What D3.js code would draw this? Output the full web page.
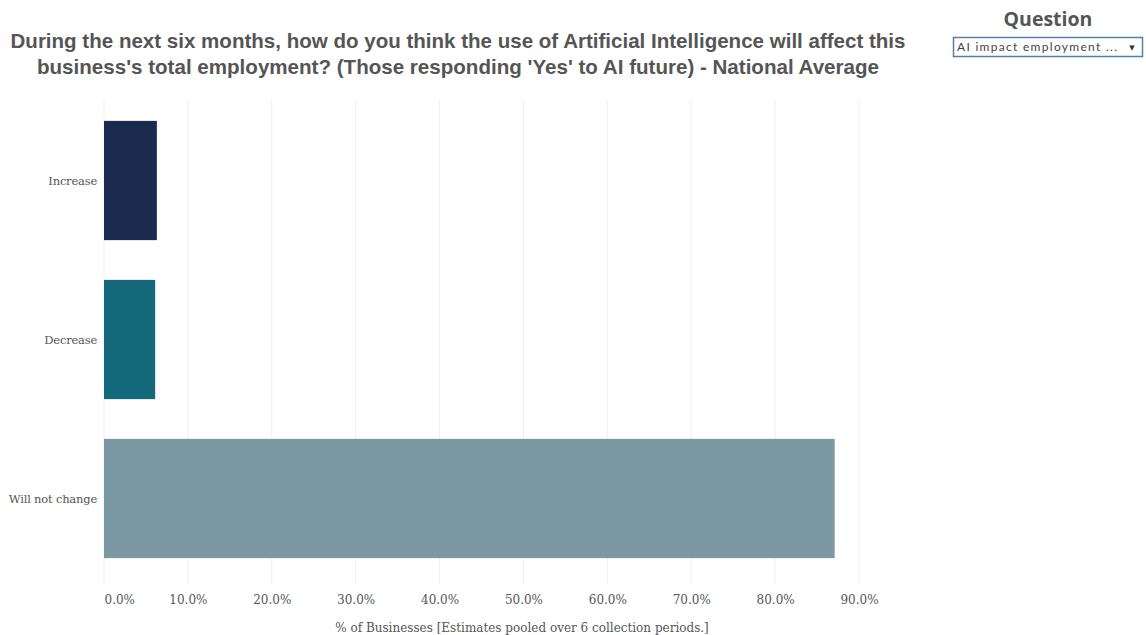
<!DOCTYPE html>
<html>
<head>
<meta charset="utf-8">
<script src="https://cdn.jsdelivr.net/npm/d3@7"></script>
<style>
  html, body { margin: 0; padding: 0; background: #fff; }
  svg { display: block; }
</style>
</head>
<body>
<svg id="chart" width="1146" height="635"></svg>
<script>
const categories = ["Increase", "Decrease", "Will not change"];
const values = [6.3, 6.1, 87.1];
const colors = ["#1b2b4f", "#13697a", "#7b98a3"];
const tickValues = [0, 10, 20, 30, 40, 50, 60, 70, 80, 90];
const titleLines = [
  "During the next six months, how do you think the use of Artificial Intelligence will affect this",
  "business's total employment? (Those responding 'Yes' to AI future) - National Average"
];
const xTitle = "% of Businesses [Estimates pooled over 6 collection periods.]";

const svg = d3.select("#chart");
const serif = "'DejaVu Serif', 'Liberation Serif', serif";

const x = d3.scaleLinear().domain([0, 90]).range([104, 859]);
const y = d3.scaleBand().domain(categories).range([101, 578]).paddingInner(0.25).paddingOuter(0.125);

// gridlines
svg.append("g").selectAll("line").data(tickValues).join("line")
  .attr("x1", d => x(d)).attr("x2", d => x(d))
  .attr("y1", 100).attr("y2", 584)
  .attr("stroke", "#efefef").attr("stroke-width", 1);

// bars
svg.append("g").selectAll("rect").data(categories).join("rect")
  .attr("x", x(0))
  .attr("y", d => y(d))
  .attr("width", (d, i) => x(values[i]) - x(0))
  .attr("height", y.bandwidth())
  .attr("fill", (d, i) => colors[i]);

// y labels
svg.append("g").selectAll("text").data(categories).join("text")
  .attr("x", 97)
  .attr("y", d => y(d) + y.bandwidth() / 2)
  .attr("dy", "0.35em")
  .attr("text-anchor", "end")
  .attr("font-family", serif)
  .attr("font-size", 11.5)
  .attr("letter-spacing", -0.2)
  .attr("fill", "#555")
  .text(d => d);

// x axis
const xAxis = d3.axisBottom(x).tickValues(tickValues).tickSize(0).tickPadding(0)
  .tickFormat(d => d.toFixed(1) + "%");
const gx = svg.append("g").attr("transform", "translate(0,600)").call(xAxis);
gx.select(".domain").remove();
gx.selectAll("text")
  .attr("font-family", serif).attr("font-size", 12).attr("fill", "#555")
  .attr("dy", "0.35em").attr("y", 0)
  .attr("text-anchor", (d, i) => i === 0 ? "start" : "middle");

svg.append("text")
  .attr("x", 522).attr("y", 632)
  .attr("text-anchor", "middle")
  .attr("font-family", serif).attr("font-size", 12).attr("fill", "#555")
  .text(xTitle);

// title
const tl = [895, 842];
svg.append("g").selectAll("text").data(titleLines).join("text")
  .attr("x", 458).attr("y", (d, i) => 48 + i * 26)
  .attr("text-anchor", "middle")
  .attr("font-family", "'Liberation Sans', Arial, sans-serif")
  .attr("font-weight", "bold")
  .attr("font-size", 21)
  .attr("textLength", (d, i) => tl[i])
  .attr("lengthAdjust", "spacingAndGlyphs")
  .attr("fill", "#555")
  .text(d => d);

// Question filter
svg.append("text")
  .attr("x", 1048).attr("y", 26)
  .attr("text-anchor", "middle")
  .attr("font-family", "'Open Sans', 'Liberation Sans', sans-serif")
  .attr("font-weight", "bold").attr("font-size", 19.5).attr("fill", "#555")
  .text("Question");
svg.append("rect")
  .attr("x", 953.5).attr("y", 37.5).attr("width", 189).attr("height", 19)
  .attr("fill", "#fff").attr("stroke", "#4f81ad").attr("stroke-width", 1.5);
svg.append("text")
  .attr("x", 957).attr("y", 51)
  .attr("font-family", "'Lato', 'Open Sans', sans-serif")
  .attr("font-size", 12).attr("fill", "#444")
  .attr("textLength", 160).attr("lengthAdjust", "spacing")
  .text("AI impact employment ...");
svg.append("text")
  .attr("x", 1132).attr("y", 50)
  .attr("text-anchor", "middle")
  .attr("font-family", "'DejaVu Sans', sans-serif")
  .attr("font-size", 7).attr("fill", "#333")
  .text("▼");
</script>
</body>
</html>
